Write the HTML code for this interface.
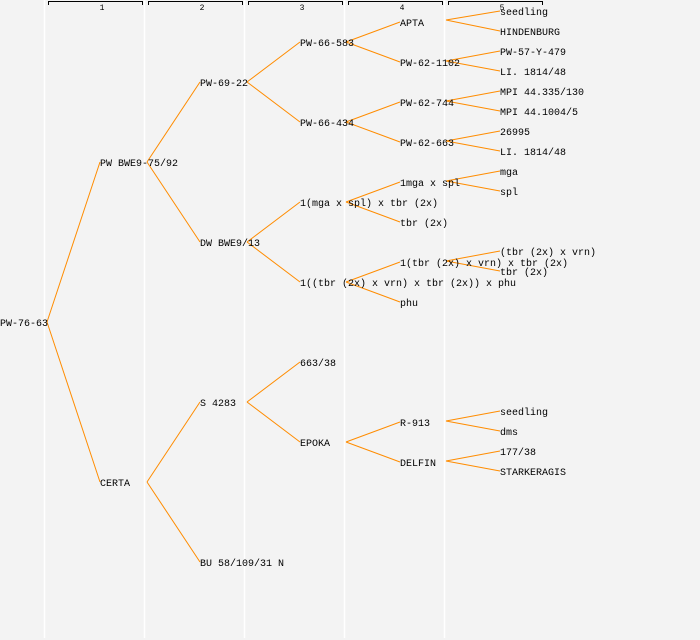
<!DOCTYPE html>
<html><head><meta charset="utf-8"><style>
html,body{margin:0;padding:0;background:#f3f3f3;}
svg{display:block;}
text{font-family:"Liberation Mono","DejaVu Sans Mono",monospace;font-size:10px;fill:#000;}
.h{font-size:8px;text-anchor:middle;}
</style></head><body>
<svg width="700" height="640" viewBox="0 0 700 640" xmlns="http://www.w3.org/2000/svg">
<rect width="700" height="640" fill="#f3f3f3"/>
<g stroke="#fff" stroke-width="1.5">
<line x1="44.5" y1="0" x2="44.5" y2="638"/><line x1="144.5" y1="0" x2="144.5" y2="638"/>
<line x1="244.5" y1="0" x2="244.5" y2="638"/><line x1="344.5" y1="0" x2="344.5" y2="638"/>
<line x1="444.5" y1="0" x2="444.5" y2="638"/>
</g>
<g stroke="#000" stroke-width="1" fill="none">
<path d="M48.5 5V1.5H142.5V5"/><path d="M148.5 5V1.5H242.5V5"/><path d="M248.5 5V1.5H342.5V5"/><path d="M348.5 5V1.5H442.5V5"/><path d="M448.5 5V1.5H542.5V5"/>
</g>
<text class="h" x="102" y="10">1</text><text class="h" x="202" y="10">2</text><text class="h" x="302" y="10">3</text><text class="h" x="402" y="10">4</text><text class="h" x="502" y="10">5</text>
<g stroke="#ff8c00" stroke-width="1" fill="none">
<path d="M47 322L100 162M47 322L100 482"/>
<path d="M147 162L200 82M147 162L200 242M147 482L200 402M147 482L200 562"/>
<path d="M247 82L300 42M247 82L300 122M247 242L300 202M247 242L300 282M247 402L300 362M247 402L300 442"/>
<path d="M346 42L400 22M346 42L400 62M346 122L400 102M346 122L400 142M346 202L400 182M346 202L400 222M346 282L400 262M346 282L400 302M346 442L400 422M346 442L400 462"/>
<path d="M446 20L500 11M446 20L500 31M446 61L500 51M446 61L500 71M446 101L500 91M446 101L500 111M446 141L500 131M446 141L500 151M446 181L500 171M446 181L500 191M446 261L500 251M446 261L500 271M446 421L500 411M446 421L500 431M446 461L500 451M446 461L500 471"/>
</g>
<g>
<text x="0" y="326">PW-76-63</text>
<text x="100" y="166">PW BWE9-75/92</text><text x="100" y="486">CERTA</text>
<text x="200" y="86">PW-69-22</text><text x="200" y="246">DW BWE9/13</text><text x="200" y="406">S 4283</text><text x="200" y="566">BU 58/109/31 N</text>
<text x="300" y="46">PW-66-583</text><text x="300" y="126">PW-66-434</text><text x="300" y="206">1(mga x spl) x tbr (2x)</text><text x="300" y="286">1((tbr (2x) x vrn) x tbr (2x)) x phu</text><text x="300" y="366">663/38</text><text x="300" y="446">EPOKA</text>
<text x="400" y="26">APTA</text><text x="400" y="66">PW-62-1102</text><text x="400" y="106">PW-62-744</text><text x="400" y="146">PW-62-663</text><text x="400" y="186">1mga x spl</text><text x="400" y="226">tbr (2x)</text><text x="400" y="266">1(tbr (2x) x vrn) x tbr (2x)</text><text x="400" y="306">phu</text><text x="400" y="426">R-913</text><text x="400" y="466">DELFIN</text>
<text x="500" y="15">seedling</text><text x="500" y="35">HINDENBURG</text><text x="500" y="55">PW-57-Y-479</text><text x="500" y="75">LI. 1814/48</text><text x="500" y="95">MPI 44.335/130</text><text x="500" y="115">MPI 44.1004/5</text><text x="500" y="135">26995</text><text x="500" y="155">LI. 1814/48</text><text x="500" y="175">mga</text><text x="500" y="195">spl</text><text x="500" y="255">(tbr (2x) x vrn)</text><text x="500" y="275">tbr (2x)</text><text x="500" y="415">seedling</text><text x="500" y="435">dms</text><text x="500" y="455">177/38</text><text x="500" y="475">STARKERAGIS</text>
</g>
</svg>
</body></html>
